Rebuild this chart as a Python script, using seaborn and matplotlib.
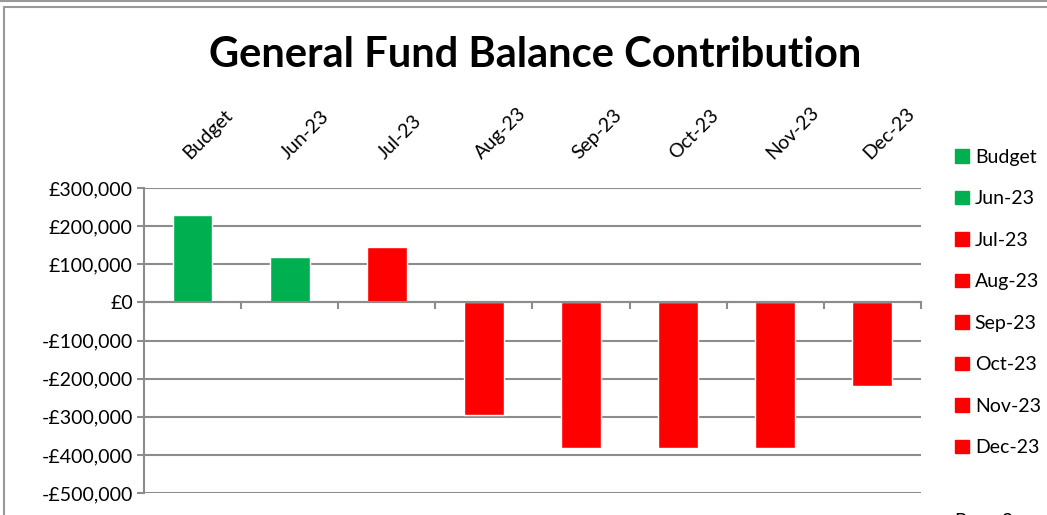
import numpy as np
import pandas as pd
import seaborn as sns
import matplotlib.pyplot as plt
from matplotlib.lines import Line2D
from matplotlib.ticker import FuncFormatter

categories = ['Budget', 'Jun-23', 'Jul-23', 'Aug-23', 'Sep-23', 'Oct-23', 'Nov-23', 'Dec-23']
values = [229000, 118000, 145000, -295000, -381000, -381000, -381000, -219000]
bar_colors = ['#00B050', '#00B050', '#FF0000', '#FF0000', '#FF0000', '#FF0000', '#FF0000', '#FF0000']

df = pd.DataFrame({'period': categories, 'amount': values})
palette = dict(zip(categories, bar_colors))

sns.set_style('white')
plt.rcParams['font.family'] = ['Lato', 'DejaVu Sans']
plt.rcParams['text.color'] = 'black'
plt.rcParams['xtick.color'] = 'black'
plt.rcParams['ytick.color'] = 'black'

fig = plt.figure(figsize=(10.47, 5.15), dpi=100)
ax = fig.add_axes([0.1375, 0.0427, 0.742, 0.592])

sns.barplot(data=df, x='period', y='amount', hue='period', palette=palette,
            order=categories, hue_order=categories, dodge=False, width=0.41,
            saturation=1, legend=True, ax=ax)

grid_c = '#8C8C8C'
ax.set_ylim(-500000, 300000)
ax.set_yticks(np.arange(-500000, 300001, 100000))
ax.yaxis.set_major_formatter(FuncFormatter(
    lambda v, p: ('-£{:,.0f}'.format(-v) if v < 0 else '£{:,.0f}'.format(v))))
ax.set_xlim(-0.5, len(categories) - 0.5)
ax.grid(axis='y', color=grid_c, linewidth=1.5)
ax.set_axisbelow(True)

for s in ['top', 'right']:
    ax.spines[s].set_visible(False)
ax.spines['left'].set_color(grid_c)
ax.spines['left'].set_linewidth(1.5)
ax.spines['bottom'].set_position(('data', 0))
ax.spines['bottom'].set_color(grid_c)
ax.spines['bottom'].set_linewidth(1.5)

ax.tick_params(axis='y', left=True, direction='out', length=5, width=1.5,
               color=grid_c, labelcolor='black', labelsize=14, pad=3)
ax.tick_params(axis='x', which='major', bottom=False, top=False,
               labelbottom=False, labeltop=True, labelcolor='black',
               labelsize=14, pad=15)
ax.set_xticks(np.arange(-0.5, len(categories), 1), minor=True)
ax.tick_params(axis='x', which='minor', bottom=True, direction='out',
               length=5, width=1.5, color=grid_c)
plt.setp(ax.get_xticklabels(), rotation=45, ha='left', va='bottom',
         rotation_mode='anchor')
ax.set_xlabel('')
ax.set_ylabel('')

handles = [plt.Rectangle((0, 0), 1, 1, color=palette[c]) for c in categories]
ax.legend(handles, categories, loc='upper left', bbox_to_anchor=(0.905, 0.726),
          bbox_transform=fig.transFigure, frameon=False, fontsize=14,
          handlelength=0.7, handleheight=0.7, handletextpad=0.3,
          labelspacing=1.26, borderaxespad=0, labelcolor='black')

fig.text(0.511, 0.893, 'General Fund Balance Contribution', ha='center',
         va='center', fontsize=30, fontweight='bold', color='black')

# frame lines from the source page
fig.add_artist(Line2D([0, 1], [0.998, 0.998], color='#999999', lw=1.5))
fig.add_artist(Line2D([0.004, 1], [0.986, 0.986], color='#999999', lw=1.5))
fig.add_artist(Line2D([0.004, 0.004], [0, 0.986], color='#999999', lw=1.5))
fig.text(0.912, -0.012, 'Page 2', fontsize=14, va='center', color='black')

fig.savefig('out.png', dpi=100, facecolor='white')
